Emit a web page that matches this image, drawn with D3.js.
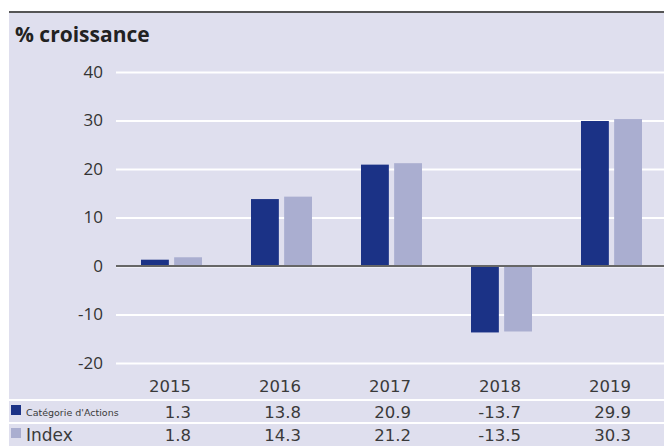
<!DOCTYPE html>
<html>
<head>
<meta charset="utf-8">
<script src="https://cdn.jsdelivr.net/npm/d3@7"></script>
<style>
  body { margin: 0; background: #fff; }
  svg { display: block; }
</style>
</head>
<body>
<svg width="664" height="446"></svg>
<script>
const years = ['2015', '2016', '2017', '2018', '2019'];
const categorie = [1.3, 13.8, 20.9, -13.7, 29.9];
const index = [1.8, 14.3, 21.2, -13.5, 30.3];
const yTicks = [40, 30, 20, 10, 0, -10, -20];
const seriesNames = ["Catégorie d'Actions", 'Index'];
const colors = ['#1b3286', '#aaaed0'];

const svg = d3.select('svg');
const width = +svg.attr('width');
const height = +svg.attr('height');

// panel background + top rule
svg.append('rect').attr('x', 9).attr('y', 12).attr('width', width - 9).attr('height', height - 12)
    .attr('fill', '#dfdfee');
svg.append('line').attr('x1', 9).attr('x2', width).attr('y1', 12).attr('y2', 12)
    .attr('stroke', '#555').attr('stroke-width', 2);

svg.append('text')
    .attr('x', 15).attr('y', 42)
    .attr('font-family', 'Open Sans, sans-serif')
    .attr('font-weight', 'bold')
    .attr('font-size', 21)
    .attr('fill', '#222')
    .text('% croissance');

const xScale = d3.scaleBand().domain(years).range([116, 666]);
const yScale = d3.scaleLinear().domain([-20, 40]).range([363, 72]);
const inner = d3.scaleBand().domain([0, 1]).range([0, 61]).paddingInner(0.16);

// grid
const yAxis = d3.axisLeft(yScale).tickValues(yTicks).tickSize(-(width - 116)).tickPadding(13)
    .tickFormat(d => String(d));
const yAxisG = svg.append('g').attr('transform', 'translate(116,0)').call(yAxis);
yAxisG.select('.domain').remove();
yAxisG.selectAll('line').attr('stroke', '#fff').attr('stroke-width', 2);
yAxisG.selectAll('text')
    .attr('font-family', 'Open Sans, sans-serif')
    .attr('font-size', 17)
    .attr('fill', '#333');

// bars
const data = years.map((y, i) => ({ year: y, values: [categorie[i], index[i]] }));
const groups = svg.selectAll('.grp').data(data).enter().append('g')
    .attr('transform', d => `translate(${xScale(d.year) + xScale.bandwidth() / 2 - 30},0)`);
groups.selectAll('rect').data(d => d.values.map((v, k) => ({ v, k }))).enter().append('rect')
    .attr('x', d => inner(d.k))
    .attr('width', inner.bandwidth())
    .attr('y', d => yScale(Math.max(0, d.v)))
    .attr('height', d => Math.abs(yScale(d.v) - yScale(0)))
    .attr('fill', d => colors[d.k]);

// zero line
svg.append('line').attr('x1', 116).attr('x2', width)
    .attr('y1', yScale(0)).attr('y2', yScale(0))
    .attr('stroke', '#666').attr('stroke-width', 2);

// table
const tableFont = 'DejaVu Sans, Verdana, sans-serif';
svg.selectAll('.yr').data(years).enter().append('text')
    .attr('x', d => xScale(d) + xScale.bandwidth() / 2 - 1)
    .attr('y', 392)
    .attr('text-anchor', 'middle')
    .attr('font-family', tableFont).attr('font-size', 16.5).attr('fill', '#3a3a3a')
    .text(d => d);

[400, 423].forEach(y => {
    svg.append('line').attr('x1', 9).attr('x2', width).attr('y1', y).attr('y2', y)
        .attr('stroke', '#fff').attr('stroke-width', 2);
});

const rows = [categorie, index];
rows.forEach((vals, r) => {
    const base = 418 + r * 23;
    svg.append('rect').attr('x', 11).attr('y', base - 13).attr('width', 10).attr('height', 10)
        .attr('fill', colors[r]);
    svg.append('text')
        .attr('x', 26).attr('y', base - (r === 0 ? 2 : 0))
        .attr('font-family', tableFont)
        .attr('font-size', r === 0 ? 9.5 : 17)
        .attr('fill', '#3a3a3a')
        .text(seriesNames[r]);
    svg.selectAll('.v' + r).data(vals).enter().append('text')
        .attr('x', (d, i) => xScale(years[i]) + xScale.bandwidth() / 2 + 20)
        .attr('y', base)
        .attr('text-anchor', 'end')
        .attr('font-family', tableFont).attr('font-size', 16.5).attr('fill', '#3a3a3a')
        .text(d => d.toFixed(1));
});
</script>
</body>
</html>
